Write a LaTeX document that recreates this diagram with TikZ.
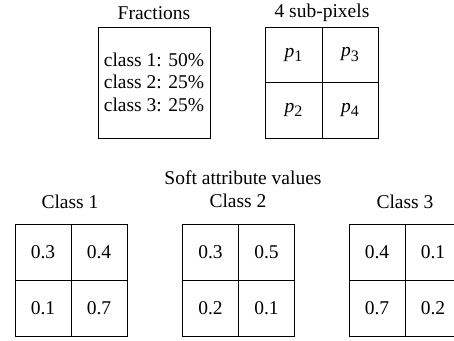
\documentclass[tikz,border=0pt]{standalone}
\usepackage{fontspec}
\setmainfont{Liberation Serif}
\begin{document}
\begin{tikzpicture}[x=1pt,y=1pt,
  lbl/.style={inner sep=0pt,font=\fontsize{19.5}{22.5}\selectfont},
  box/.style={draw,line width=0.9pt},
  gridline/.style={line width=0.8pt}]
\useasboundingbox (0,0) rectangle (454,340);
\clip (0,0) rectangle (454,340);
\newcommand\subp[1]{\textit{p}\raisebox{-0.45ex}{\fontsize{16}{16}\selectfont #1}}
% top titles
\node[lbl] (tfrac) at (154,327) {Fractions};
\node[lbl] (tsub) at (322,327) {4 sub-pixels};
% fractions box
\node[box,minimum width=112pt,minimum height=111pt,inner sep=0pt] (frac) at (154,257.5) {};
\node[lbl,align=left] (fractxt) at (154,258) {class 1: 50\%\\class 2: 25\%\\class 3: 25\%};
% sub-pixel grid
\draw[box] (265,202) rectangle (378,313);
\draw[gridline] (322,202) -- (322,313);
\draw[gridline] (265,258) -- (378,258);
\node[lbl] (p1) at (293.5,285.5) {\subp{1}};
\node[lbl] (p3) at (350,285.5) {\subp{3}};
\node[lbl] (p2) at (293.5,230) {\subp{2}};
\node[lbl] (p4) at (350,230) {\subp{4}};
% bottom titles
\node[lbl] (tsoft) at (243,162) {Soft attribute values};
\node[lbl] (tc1) at (70,138) {Class 1};
\node[lbl] (tc2) at (238,139) {Class 2};
\node[lbl] (tc3) at (405,138) {Class 3};
% grids
\foreach \cx/\a/\b/\c/\d/\n in {71/0.3/0.4/0.1/0.7/g1, 238.5/0.3/0.5/0.2/0.1/g2, 405/0.4/0.1/0.7/0.2/g3}{
  \draw[box] (\cx-56,4) rectangle (\cx+56,116);
  \draw[gridline] (\cx,4) -- (\cx,116);
  \draw[gridline] (\cx-56,60) -- (\cx+56,60);
  \node[lbl] (\n a) at (\cx-28,88) {\a};
  \node[lbl] (\n b) at (\cx+28,88) {\b};
  \node[lbl] (\n c) at (\cx-28,32) {\c};
  \node[lbl] (\n d) at (\cx+28,32) {\d};
}
\end{tikzpicture}
\end{document}
